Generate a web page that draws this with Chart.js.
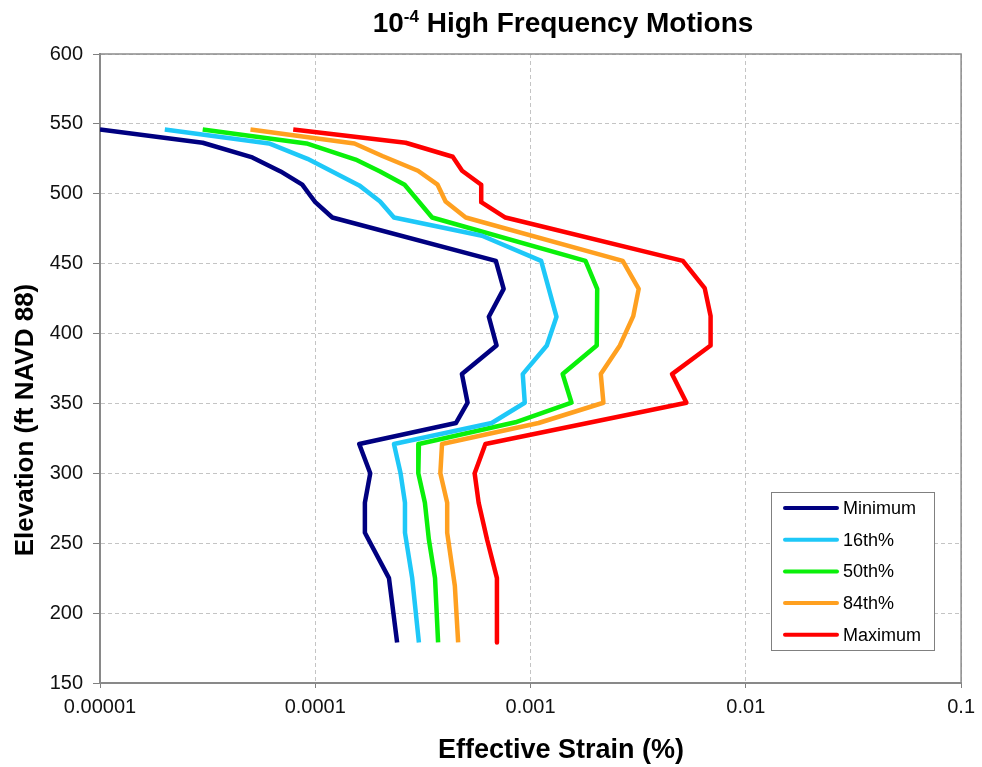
<!DOCTYPE html>
<html>
<head>
<meta charset="utf-8">
<script src="https://cdn.jsdelivr.net/npm/chart.js@4.4.0/dist/chart.umd.min.js"></script>
<style>
  html, body { margin: 0; padding: 0; background: #fff; }
  #wrap { width: 982px; height: 767px; position: relative; }
</style>
</head>
<body>
<div id="wrap"><canvas id="strainChart"></canvas></div>
<script>
// elevation (ft) / effective strain (%) profiles
const seriesNames = ['Minimum', '16th%', '50th%', '84th%', 'Maximum'];

const minElev   = [546, 536.5, 526, 516, 506.5, 499.5, 494, 483, 452, 432, 412, 391.5, 371, 350.5, 336, 321, 300, 279, 257.5, 225, 179];
const minStrain = [1.0e-5, 3.0e-5, 5.1e-5, 6.9e-5, 8.7e-5, 9.4e-5, 1.0e-4, 1.2e-4, 6.9e-4, 7.5e-4, 6.4e-4, 6.95e-4, 4.8e-4, 5.1e-4, 4.5e-4, 1.6e-4, 1.8e-4, 1.7e-4, 1.7e-4, 2.2e-4, 2.4e-4];

const p16Elev   = [546, 536, 525, 506, 494.5, 483, 470, 452, 412, 391.5, 371, 350.5, 336, 321, 300, 279, 257.5, 225, 179];
const p16Strain = [2.0e-5, 6.1e-5, 9.2e-5, 1.6e-4, 2.0e-4, 2.32e-4, 5.95e-4, 1.12e-3, 1.32e-3, 1.19e-3, 9.2e-4, 9.4e-4, 6.6e-4, 2.32e-4, 2.49e-4, 2.61e-4, 2.61e-4, 2.82e-4, 3.03e-4];

const p50Elev   = [546, 536, 524.5, 516, 506.5, 483, 452, 432, 391.5, 371, 350.5, 336.5, 321, 300, 279, 252.7, 225, 179];
const p50Strain = [3.0e-5, 9.1e-5, 1.54e-4, 2.0e-4, 2.6e-4, 3.49e-4, 1.8e-3, 2.04e-3, 2.03e-3, 1.41e-3, 1.55e-3, 8.5e-4, 3.03e-4, 3.01e-4, 3.23e-4, 3.37e-4, 3.6e-4, 3.72e-4];

const p84Elev   = [546, 536, 527, 516.5, 506.5, 494.5, 483, 452, 432, 412.5, 391.5, 371, 350.5, 336, 321, 300, 279, 257.5, 219.5, 179];
const p84Strain = [5.0e-5, 1.52e-4, 2.05e-4, 3.0e-4, 3.7e-4, 4.03e-4, 5.0e-4, 2.68e-3, 3.18e-3, 3.0e-3, 2.6e-3, 2.12e-3, 2.18e-3, 1.09e-3, 3.88e-4, 3.81e-4, 4.1e-4, 4.1e-4, 4.45e-4, 4.61e-4];

const maxElev   = [546, 536.5, 526.5, 516.5, 506.5, 494, 483, 452, 432.5, 412.5, 391.5, 371, 350.5, 321, 300, 279, 252.7, 225, 179];
const maxStrain = [7.9e-5, 2.63e-4, 4.35e-4, 4.81e-4, 5.9e-4, 5.9e-4, 7.64e-4, 5.1e-3, 6.44e-3, 6.86e-3, 6.86e-3, 4.54e-3, 5.3e-3, 6.17e-4, 5.5e-4, 5.74e-4, 6.28e-4, 6.98e-4, 6.98e-4];

const strainTicks  = [1e-5, 1e-4, 1e-3, 1e-2, 1e-1];
const strainLabels = ['0.00001', '0.0001', '0.001', '0.01', '0.1'];

const lineColors = ['#000080', '#1ec8f8', '#0af00a', '#ffa020', '#ff0000'];
const FONT = "'Liberation Sans', Arial, sans-serif";

const toPoints = (xs, ys) => xs.map((v, i) => ({ x: v, y: ys[i] }));
const profiles = [
  toPoints(minStrain, minElev),
  toPoints(p16Strain, p16Elev),
  toPoints(p50Strain, p50Elev),
  toPoints(p84Strain, p84Elev),
  toPoints(maxStrain, maxElev)
];

// plot frame, titles and the boxed legend
const decorations = {
  id: 'decorations',
  beforeDatasetsDraw(chart) {
    const { ctx, chartArea: a } = chart;
    ctx.save();
    ctx.strokeStyle = '#8c8c8c';
    ctx.lineWidth = 1.5;
    ctx.strokeRect(a.left, a.top, a.right - a.left, a.bottom - a.top);
    ctx.restore();
  },
  afterDraw(chart) {
    const { ctx } = chart;
    ctx.save();
    ctx.fillStyle = '#000';

    // title with superscript exponent
    const big = 'bold 28px ' + FONT, small = 'bold 17px ' + FONT;
    ctx.font = big;
    const w1 = ctx.measureText('10').width;
    const w3 = ctx.measureText(' High Frequency Motions').width;
    ctx.font = small;
    const w2 = ctx.measureText('-4').width;
    let x = 563 - (w1 + w2 + w3) / 2;
    const base = 32;
    ctx.textBaseline = 'alphabetic';
    ctx.textAlign = 'left';
    ctx.font = big;
    ctx.fillText('10', x, base);
    x += w1;
    ctx.font = small;
    ctx.fillText('-4', x, base - 10);
    x += w2;
    ctx.font = big;
    ctx.fillText(' High Frequency Motions', x, base);

    // axis titles
    ctx.textAlign = 'center';
    ctx.font = 'bold 27px ' + FONT;
    ctx.fillText('Effective Strain (%)', 561, 758);
    ctx.save();
    ctx.translate(33, 420);
    ctx.rotate(-Math.PI / 2);
    ctx.font = 'bold 26px ' + FONT;
    ctx.fillText('Elevation (ft NAVD 88)', 0, 0);
    ctx.restore();

    // legend
    ctx.fillStyle = '#fff';
    ctx.fillRect(771.5, 492.5, 163, 158);
    ctx.strokeStyle = '#808080';
    ctx.lineWidth = 1;
    ctx.strokeRect(771.5, 492.5, 163, 158);
    ctx.font = '18px ' + FONT;
    ctx.textAlign = 'left';
    ctx.textBaseline = 'middle';
    chart.data.datasets.forEach((ds, i) => {
      const y = 508 + i * 31.7;
      ctx.strokeStyle = ds.borderColor;
      ctx.lineWidth = 4;
      ctx.lineCap = 'round';
      ctx.beginPath();
      ctx.moveTo(785, y);
      ctx.lineTo(837, y);
      ctx.stroke();
      ctx.fillStyle = '#000';
      ctx.fillText(ds.label, 843, y + 1);
    });
    ctx.restore();
  }
};

new Chart(document.getElementById('strainChart').getContext('2d'), {
  type: 'scatter',
  data: {
    datasets: profiles.map((pts, i) => ({
      label: seriesNames[i],
      data: pts,
      showLine: true,
      borderColor: lineColors[i],
      backgroundColor: lineColors[i],
      borderWidth: 4.5,
      borderJoinStyle: 'round',
      pointRadius: 0,
      pointHoverRadius: 0,
      tension: 0
    }))
  },
  options: {
    responsive: true,
    maintainAspectRatio: false,
    animation: false,
    layout: { padding: { top: 54, right: 16, bottom: 0, left: 0 } },
    plugins: {
      legend: { display: false },
      tooltip: { enabled: false }
    },
    scales: {
      x: {
        type: 'logarithmic',
        min: 1e-5,
        max: 0.1,
        afterBuildTicks: (scale) => { scale.ticks = strainTicks.map(v => ({ value: v })); },
        afterFit: (scale) => { scale.height = 84; },
        grid: { color: '#c4c4c4', tickColor: '#808080', tickLength: 5, tickBorderDash: [] },
        border: { color: '#808080', width: 2, dash: [4, 3] },
        ticks: {
          color: '#111',
          padding: 7,
          maxRotation: 0,
          font: { size: 20, family: FONT },
          callback: (value, index) => strainLabels[index]
        }
      },
      y: {
        min: 150,
        max: 600,
        afterFit: (scale) => { scale.width = 100; },
        grid: { color: '#c4c4c4', tickColor: '#808080', tickLength: 7, tickBorderDash: [] },
        border: { color: '#808080', width: 2, dash: [4, 3] },
        ticks: {
          stepSize: 50,
          color: '#111',
          padding: 10,
          font: { size: 20, family: FONT }
        }
      }
    }
  },
  plugins: [decorations]
});
</script>
</body>
</html>
